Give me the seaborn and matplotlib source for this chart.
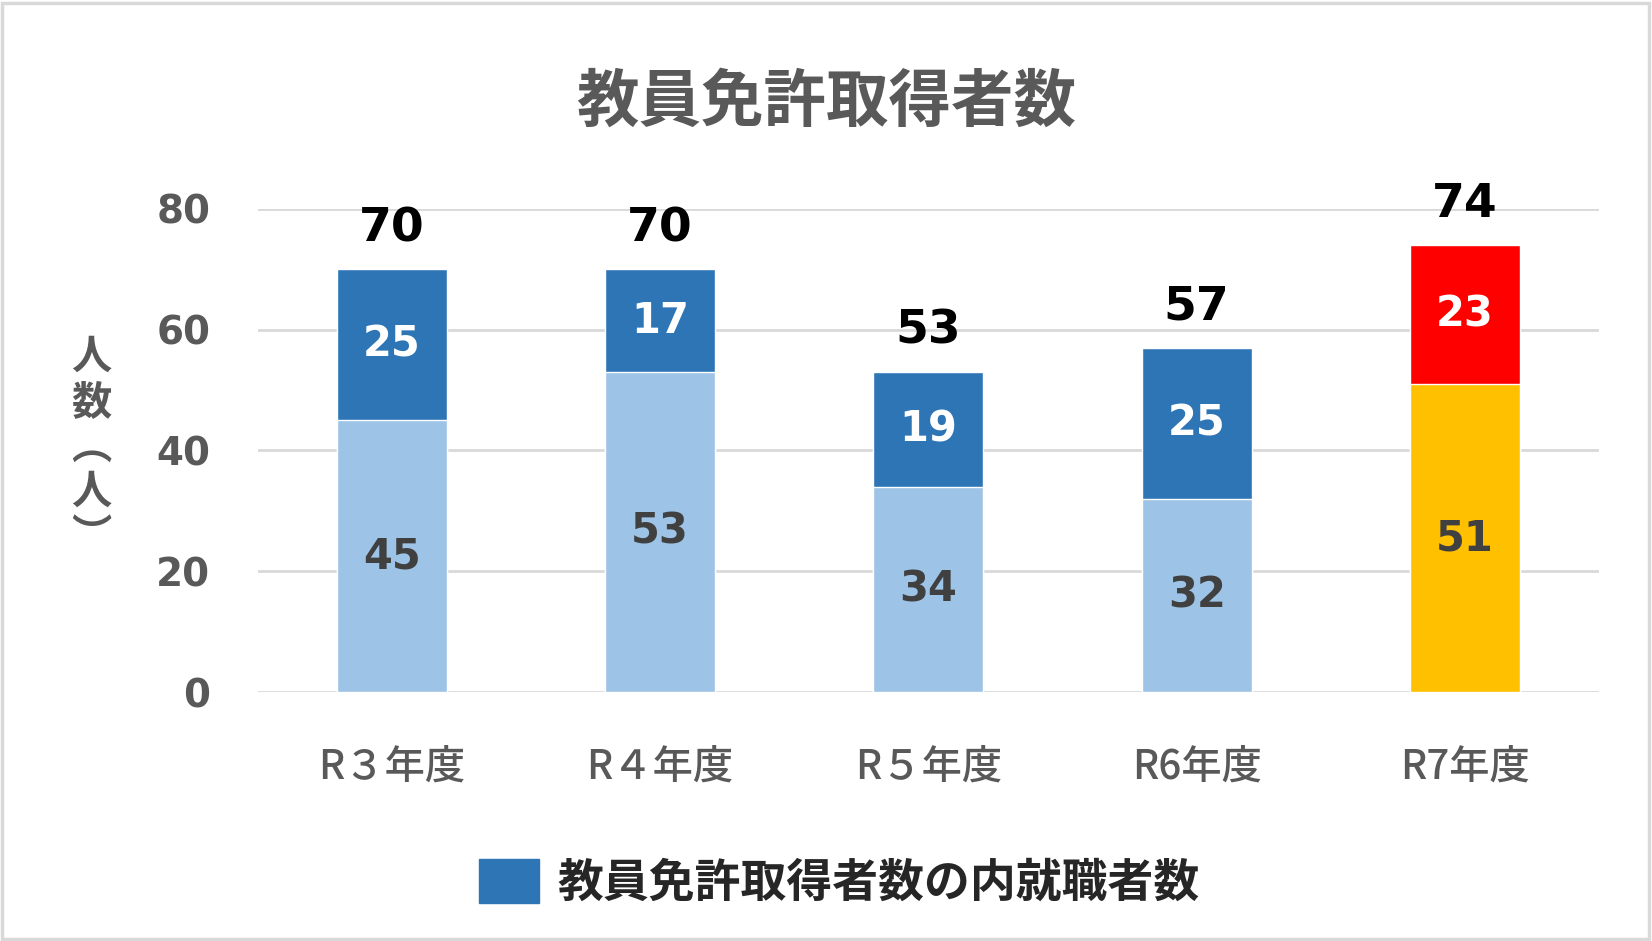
import numpy as np
import pandas as pd
import matplotlib
matplotlib.use("Agg")
import matplotlib.pyplot as plt
from matplotlib.patches import Patch, Rectangle
import seaborn as sns

# データ
nendo = ["R３年度", "R４年度", "R５年度", "R6年度", "R7年度"]
shutoku_nomi = [45, 53, 34, 32, 51]      # 下段
shushoku = [25, 17, 19, 25, 23]          # 上段（内就職者数）
goukei = [70, 70, 53, 57, 74]

iro_shita = ["#9DC3E6", "#9DC3E6", "#9DC3E6", "#9DC3E6", "#FFC000"]
iro_ue = ["#2E75B6", "#2E75B6", "#2E75B6", "#2E75B6", "#FF0000"]

sns.set_theme(style="white")
plt.rcParams["font.family"] = ["Noto Sans CJK JP", "DejaVu Sans"]

GRAY = "#595959"

df = pd.DataFrame({"年度": nendo, "下": shutoku_nomi, "上": shushoku, "計": goukei})

fig = plt.figure(figsize=(16.52, 9.41), dpi=100)
ax = fig.add_axes([0.156, 0.2646, 0.812, 0.5134])

# 上段は合計の高さで先に描き、下段を重ねる
sns.barplot(data=df, x="年度", y="計", hue="年度", palette=iro_ue, legend=False,
            width=0.41, saturation=1, ax=ax, zorder=2)
sns.barplot(data=df, x="年度", y="下", hue="年度", palette=iro_shita, legend=False,
            width=0.41, saturation=1, ax=ax, zorder=3)

ax.set_ylim(0, 80)
ax.set_xlim(-0.5, 4.5)
ax.set_yticks([0, 20, 40, 60, 80])
ax.yaxis.grid(True, color="#D9D9D9", linewidth=2)
ax.set_axisbelow(True)
for s in ax.spines.values():
    s.set_visible(False)
ax.set_xlabel("")
ax.set_ylabel("")
ax.tick_params(axis="y", length=0, pad=34, labelsize=28, labelcolor=GRAY)
ax.tick_params(axis="x", length=0, pad=39, labelsize=29, labelcolor=GRAY)
for t in ax.get_yticklabels():
    t.set_family(["DejaVu Sans"])
    t.set_fontweight("bold")
for t in ax.get_xticklabels():
    t.set_fontweight("medium")

for i in range(len(nendo)):
    ax.text(i, shutoku_nomi[i] / 2, str(shutoku_nomi[i]), ha="center", va="center",
            fontsize=30, color="#404040", family=["DejaVu Sans"], fontweight="bold", zorder=5)
    ax.text(i, shutoku_nomi[i] + shushoku[i] / 2, str(shushoku[i]), ha="center", va="center",
            fontsize=30, color="white", family=["DejaVu Sans"], fontweight="bold", zorder=5)
    ax.annotate(str(goukei[i]), (i, goukei[i]), xytext=(0, 13), textcoords="offset points",
                ha="center", va="bottom", fontsize=34, fontweight="bold", color="black",
                family=["DejaVu Sans"], zorder=5)

fig.text(0.5, 0.891, "教員免許取得者数", ha="center", va="center",
         fontsize=45, fontweight="bold", color=GRAY)

fig.text(0.0555, 0.525, "人\n数\n︵\n人\n︶", ha="center", va="center",
         fontsize=29, color=GRAY, linespacing=1.12, fontweight="bold")

fig.legend(handles=[Patch(facecolor="#2E75B6", edgecolor="#2E75B6")],
           labels=["教員免許取得者数の内就職者数"], loc="center",
           bbox_to_anchor=(0.508, 0.062), frameon=False,
           handlelength=1.3, handleheight=1.1, handletextpad=0.4,
           prop={"weight": "bold", "size": 33})

fig.patches.append(Rectangle((0.001, 0.002), 0.997, 0.995, transform=fig.transFigure,
                             fill=False, edgecolor="#D9D9D9", linewidth=2.5))

fig.savefig("out.png", dpi=100, facecolor="white")
